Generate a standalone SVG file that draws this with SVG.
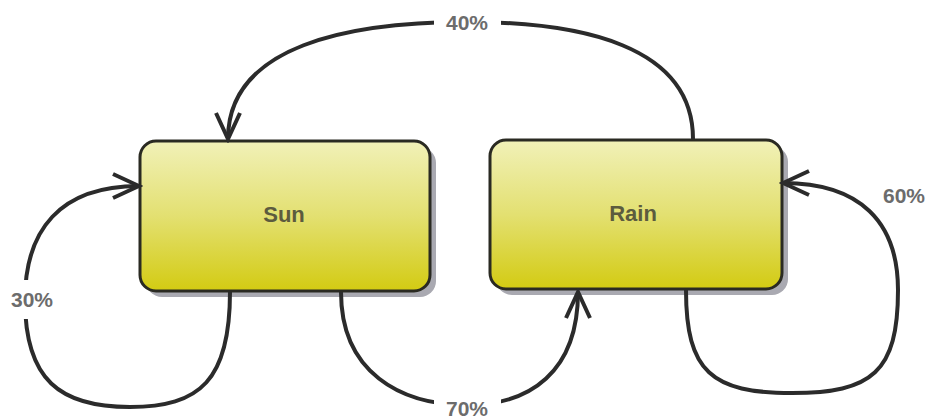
<svg xmlns="http://www.w3.org/2000/svg" width="928" height="419" viewBox="0 0 928 419">
  <defs>
    <linearGradient id="boxGrad" x1="0" y1="0" x2="0" y2="1">
      <stop offset="0" stop-color="#f1f1b8"/>
      <stop offset="0.5" stop-color="#e3e071"/>
      <stop offset="1" stop-color="#d3cb12"/>
    </linearGradient>
    <marker id="arrow" viewBox="-30 -16 34 32" refX="0" refY="0" markerWidth="34" markerHeight="32" markerUnits="userSpaceOnUse" orient="auto">
      <path d="M-26,-12 L0,0 L-26,12" fill="none" stroke="#2b2b2b" stroke-width="4" stroke-linejoin="miter"/>
    </marker>
  </defs>
  <style>
    .shadow { fill: #a9a9b1; }
    .box { fill: url(#boxGrad); stroke: #2a2a22; stroke-width: 3; }
    .nodeText { font-family: "Liberation Sans", Arial, sans-serif; font-weight: bold; font-size: 22px; fill: #5c5b3e; text-anchor: middle; dominant-baseline: central; }
    .edge { fill: none; stroke: #2b2b2b; stroke-width: 4; }
    .label { font-family: "Liberation Sans", Arial, sans-serif; font-weight: bold; font-size: 21px; fill: #6c6c6c; text-anchor: middle; dominant-baseline: central; }
    .gap { fill: #ffffff; }
  </style>
  <rect width="928" height="419" fill="#ffffff"/>

  <g id="node-sun">
    <rect class="shadow" x="146" y="147" width="290" height="150" rx="16"/>
    <rect class="box" x="140" y="141" width="290" height="150" rx="16"/>
    <text class="nodeText" x="284" y="214">Sun</text>
  </g>

  <g id="node-rain">
    <rect class="shadow" x="496" y="146" width="292" height="149" rx="16"/>
    <rect class="box" x="490" y="140" width="292" height="149" rx="16"/>
    <text class="nodeText" x="633" y="213">Rain</text>
  </g>

  <g id="connectors">
    <path class="edge" d="M693,139 C693,45 580,22 467,22 C350,22 228,45 228,139" marker-end="url(#arrow)"/>
    <path class="edge" d="M230,292 C230,380 200,407 130,407 C60,407 25,380 25,300 C25,230 60,186 139,186" marker-end="url(#arrow)"/>
    <path class="edge" d="M686,290 C686,372 712,393 792,393 C872,393 898,372 898,290 C898,222 860,183 783,183" marker-end="url(#arrow)"/>
    <path class="edge" d="M341,292 C341,372 400,405 467,405 C530,405 578,372 578,292" marker-end="url(#arrow)"/>

    <rect class="gap" x="434" y="8" width="67" height="28"/>
    <text class="label" x="467" y="22">40%</text>
    <rect class="gap" x="8" y="280" width="40" height="39"/>
    <text class="label" x="32" y="299">30%</text>
    <rect class="gap" x="434" y="394" width="67" height="25"/>
    <text class="label" x="467" y="408">70%</text>
    <text class="label" x="904" y="195">60%</text>
  </g>
</svg>
